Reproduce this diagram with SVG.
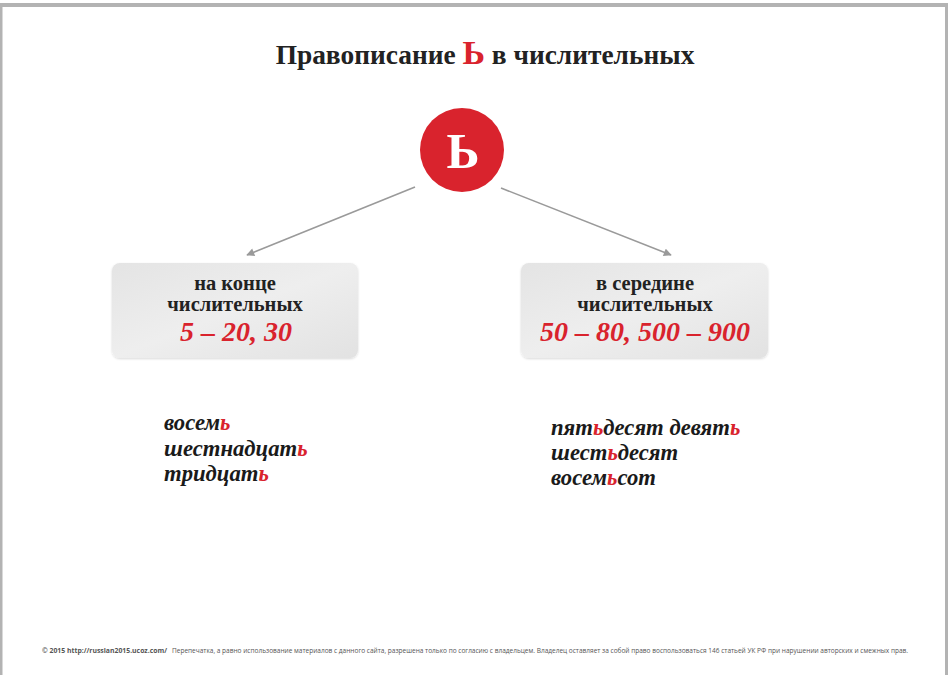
<svg xmlns="http://www.w3.org/2000/svg" width="950" height="675" viewBox="0 0 950 675">
<defs>
<linearGradient id="boxg" x1="0" y1="0" x2="1" y2="1">
<stop offset="0" stop-color="#e4e4e4"/>
<stop offset="0.5" stop-color="#eeeeee"/>
<stop offset="1" stop-color="#e2e2e2"/>
</linearGradient>
<marker id="ah" viewBox="0 0 10 10" refX="9" refY="5" markerWidth="10" markerHeight="8" markerUnits="userSpaceOnUse" orient="auto">
<path d="M0,0 L10,5 L0,10 z" fill="#9a9a9a"/>
</marker>
<filter id="sh" x="-10%" y="-10%" width="120%" height="130%">
<feDropShadow dx="0" dy="1" stdDeviation="1.2" flood-color="#000" flood-opacity="0.15"/>
</filter>
</defs>
<style>
.ser{font-family:"Liberation Serif","Times New Roman",serif;font-weight:bold}
.hd{font-size:20.5px;fill:#222;text-anchor:middle}
.num{font-size:28px;fill:#d9232d;font-style:italic;text-anchor:middle}
.ex{font-size:22.7px;fill:#1a1a1a;font-style:italic}
.r{fill:#d9232d}
.ft{font-family:"Open Sans","DejaVu Sans",sans-serif;font-size:6.6px;fill:#555}
</style>
<rect width="950" height="675" fill="#ffffff"/>
<g id="frame">
<rect x="0" y="3" width="948" height="4" fill="#b3b3b3"/>
<rect x="0" y="3" width="2.5" height="672" fill="#b3b3b3"/>
<rect x="945" y="3" width="3" height="672" fill="#b3b3b3"/>
</g>
<g id="title">
<text class="ser" x="485" y="64" text-anchor="middle" font-size="27.4" fill="#222">Правописание <tspan class="r" font-size="34">Ь</tspan> в числительных</text>
</g>
<g id="connectors" stroke="#9a9a9a" stroke-width="1.6" fill="none">
<line x1="415" y1="187" x2="247" y2="255" marker-end="url(#ah)"/>
<line x1="501" y1="188" x2="671" y2="255" marker-end="url(#ah)"/>
</g>
<g id="node-soft-sign">
<circle cx="462" cy="150" r="42" fill="#d9232d"/>
<text class="ser" x="463" y="168" text-anchor="middle" font-size="50" fill="#ffffff">Ь</text>
</g>
<g id="node-end">
<rect x="112" y="263" width="246" height="95" rx="8" fill="url(#boxg)" filter="url(#sh)"/>
<text class="ser hd" x="235" y="290">на конце</text>
<text class="ser hd" x="235" y="311">числительных</text>
<text class="ser num" x="236" y="341">5 – 20, 30</text>
</g>
<g id="node-middle">
<rect x="521" y="263" width="247" height="95" rx="8" fill="url(#boxg)" filter="url(#sh)"/>
<text class="ser hd" x="645" y="290">в середине</text>
<text class="ser hd" x="645" y="311">числительных</text>
<text class="ser num" x="645" y="341">50 – 80, 500 – 900</text>
</g>
<g id="examples-end">
<text class="ser ex" x="164" y="430">восем<tspan class="r">ь</tspan></text>
<text class="ser ex" x="164" y="456">шестнадцат<tspan class="r">ь</tspan></text>
<text class="ser ex" x="164" y="481">тридцат<tspan class="r">ь</tspan></text>
</g>
<g id="examples-middle">
<text class="ser ex" x="551" y="435">пят<tspan class="r">ь</tspan>десят девят<tspan class="r">ь</tspan></text>
<text class="ser ex" x="551" y="460">шест<tspan class="r">ь</tspan>десят</text>
<text class="ser ex" x="551" y="485">восем<tspan class="r">ь</tspan>сот</text>
</g>
<g id="footer">
<text class="ft" x="42" y="653" font-weight="bold" fill="#333" textLength="125" lengthAdjust="spacingAndGlyphs">© 2015  http://russian2015.ucoz.com/</text>
<text class="ft" x="172" y="653" textLength="736" lengthAdjust="spacingAndGlyphs">Перепечатка, а равно использование материалов с данного сайта, разрешена только по согласию с владельцем. Владелец оставляет за собой право воспользоваться 146 статьей УК РФ при нарушении авторских и смежных прав.</text>
</g>
</svg>
